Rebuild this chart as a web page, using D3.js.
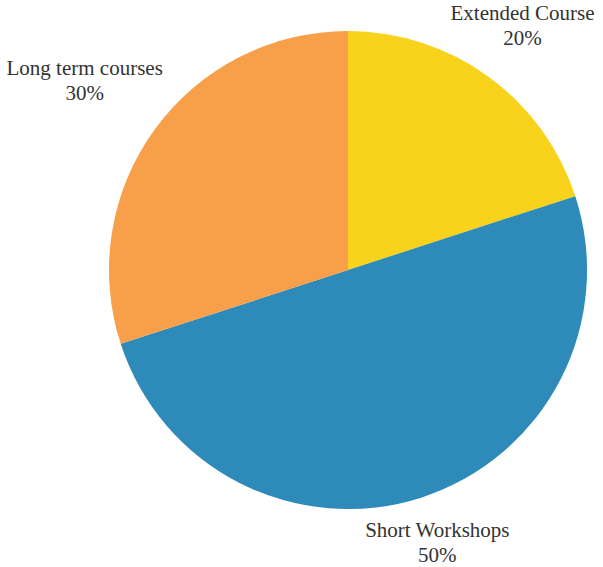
<!DOCTYPE html>
<html>
<head>
<meta charset="utf-8">
<script src="https://cdn.jsdelivr.net/npm/d3@7"></script>
<style>
  html, body { margin: 0; padding: 0; background: #fff; }
  svg { display: block; }
  .label { font-family: "Liberation Serif", "Times New Roman", serif; font-size: 21px; fill: #333; }
</style>
</head>
<body>
<svg id="chart" width="603" height="567"></svg>
<script>
// Course type shares
const categories = ["Extended Course", "Short Workshops", "Long term courses"];
const values = [20, 50, 30];
const colors = ["#F9D21C", "#2D8AB9", "#F89F4A"];

const width = 603, height = 567;
const cx = 348, cy = 270, radius = 239, labelRadius = 302;
// small nudges to keep the labels clear of the page edges
const labelNudge = [[-3, 0], [-4, -14], [-19, -11]];

const svg = d3.select("#chart");
const g = svg.append("g").attr("transform", `translate(${cx},${cy})`);

const data = categories.map((c, i) => ({ name: c, value: values[i], color: colors[i], i }));

const pie = d3.pie().value(d => d.value).sort(null);
const arc = d3.arc().innerRadius(0).outerRadius(radius);
const labelArc = d3.arc().innerRadius(labelRadius).outerRadius(labelRadius);

const arcs = pie(data);

g.selectAll("path.slice")
  .data(arcs)
  .join("path")
  .attr("class", "slice")
  .attr("d", arc)
  .attr("fill", d => d.data.color);

const total = d3.sum(values);
const labels = g.selectAll("text.label")
  .data(arcs)
  .join("text")
  .attr("class", "label")
  .attr("text-anchor", "middle")
  .attr("transform", d => {
    const [x, y] = labelArc.centroid(d);
    const [nx, ny] = labelNudge[d.data.i];
    return `translate(${x + nx},${y + ny})`;
  });

labels.append("tspan")
  .attr("x", 0)
  .attr("y", -6)
  .text(d => d.data.name);
labels.append("tspan")
  .attr("x", 0)
  .attr("y", 19)
  .text(d => Math.round(d.data.value / total * 100) + "%");
</script>
</body>
</html>
